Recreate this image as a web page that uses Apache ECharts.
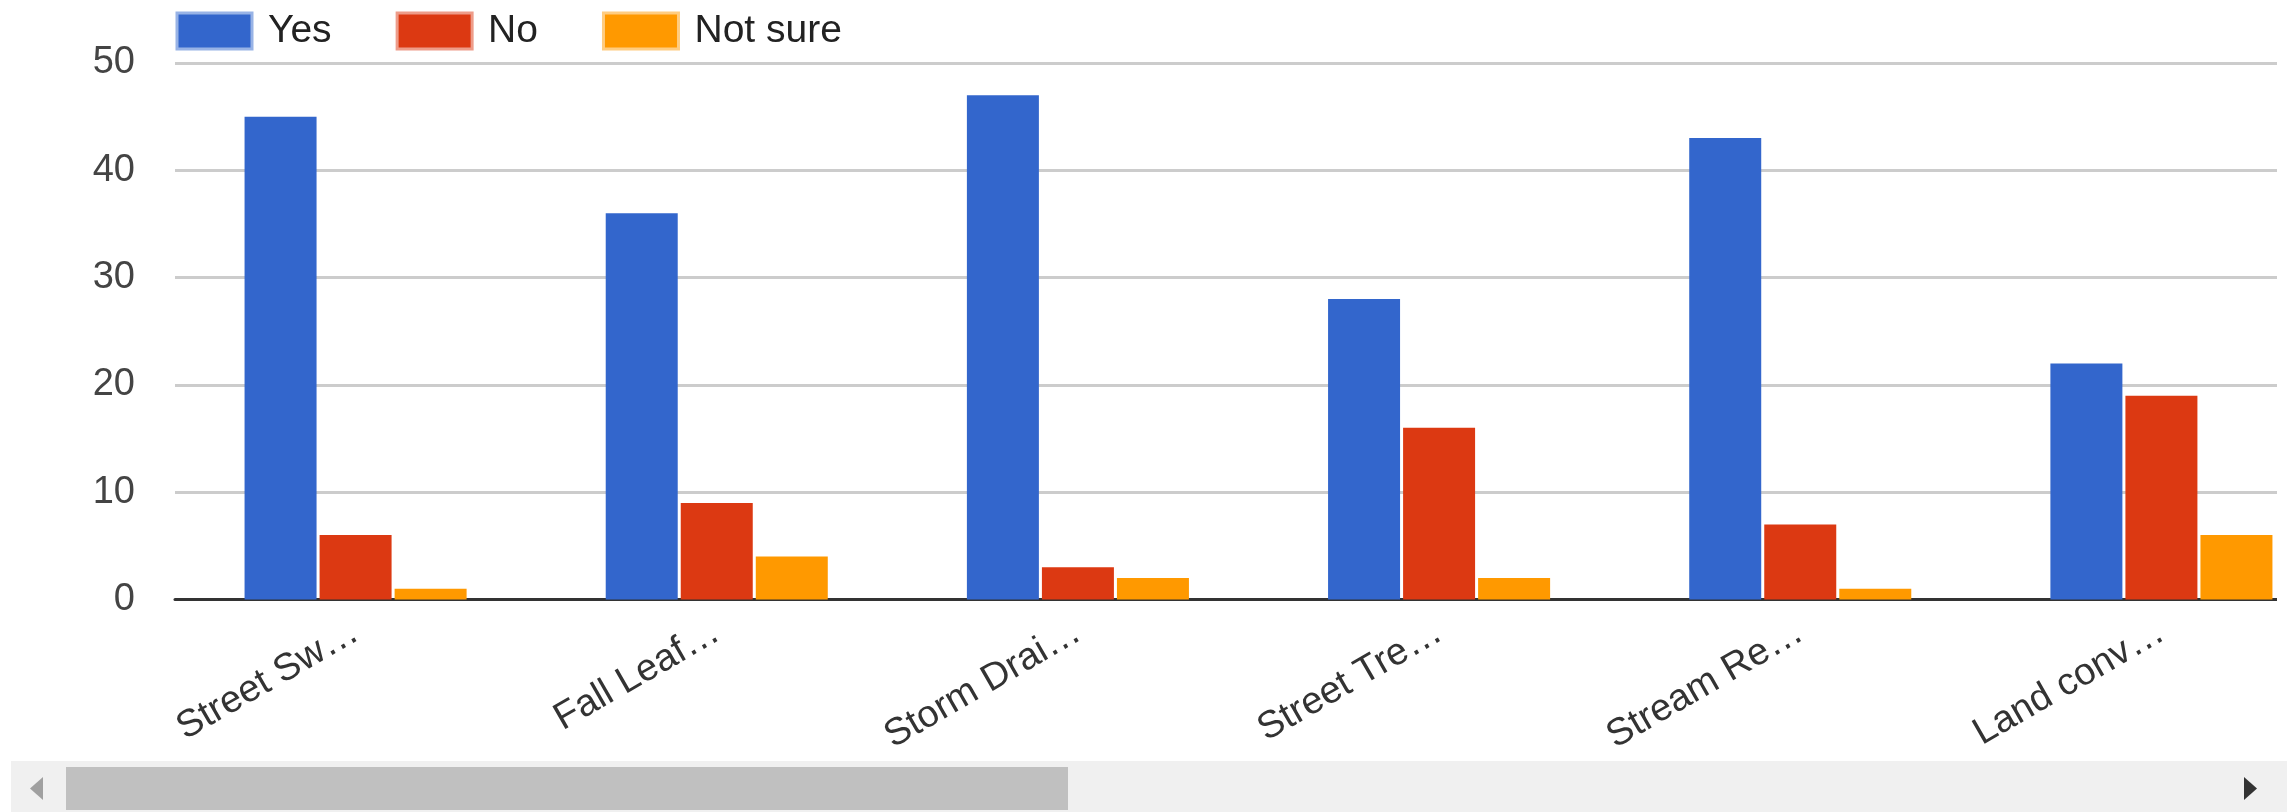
<!DOCTYPE html>
<html>
<head>
<meta charset="utf-8">
<script src="https://cdn.jsdelivr.net/npm/echarts@6/dist/echarts.min.js"></script>
<style>
html,body{margin:0;padding:0;background:#fff;overflow:hidden;width:2287px;height:812px;}
#chart{width:2400px;height:812px;}
</style>
</head>
<body>
<div id="chart"></div>
<script>
var categories = ["Street Sw\u2026", "Fall Leaf\u2026", "Storm Drai\u2026", "Street Tre\u2026", "Stream Re\u2026", "Land conv\u2026"];
var yesValues = [45, 36, 47, 28, 43, 22];
var noValues = [6, 9, 3, 16, 7, 19];
var notSureValues = [1, 4, 2, 2, 1, 6];
var yTicks = { min: 0, max: 50, interval: 10 };

var FONT = 'Arial, "Liberation Sans", sans-serif';
var chart = echarts.init(document.getElementById('chart'));
chart.setOption({
  animation: false,
  backgroundColor: '#ffffff',
  color: ['#3366cc', '#dc3912', '#ff9900'],
  legend: {
    left: 175.5, top: 11.5, padding: 0,
    icon: 'rect',
    itemWidth: 75, itemHeight: 36, itemGap: 64,
    textStyle: { fontFamily: FONT, fontSize: 39, color: '#222222', padding: [0, 0, 0, 11] },
    data: [
      { name: 'Yes', itemStyle: { borderColor: '#98b3e6', borderWidth: 3 } },
      { name: 'No', itemStyle: { borderColor: '#ee9c89', borderWidth: 3 } },
      { name: 'Not sure', itemStyle: { borderColor: '#ffcc80', borderWidth: 3 } }
    ]
  },
  grid: { left: 175, right: 2400 - 175 - 2167, top: 63, bottom: 212.5, containLabel: false },
  xAxis: {
    type: 'category',
    data: categories,
    axisLine: { show: true, lineStyle: { color: '#333333', width: 3 } },
    axisTick: { show: false },
    axisLabel: { rotate: 30, margin: 30, fontFamily: FONT, fontSize: 38, color: '#333333', interval: 0 },
    splitLine: { show: false }
  },
  yAxis: {
    type: 'value',
    min: yTicks.min, max: yTicks.max, interval: yTicks.interval,
    axisLine: { show: false },
    axisTick: { show: false },
    axisLabel: { margin: 40, fontFamily: FONT, fontSize: 38, color: '#444444' },
    splitLine: { lineStyle: { color: '#cccccc', width: 3 } }
  },
  series: [
    { name: 'Yes', type: 'bar', data: yesValues, barWidth: 72, barGap: '4.2%' },
    { name: 'No', type: 'bar', data: noValues, barWidth: 72, barGap: '4.2%' },
    { name: 'Not sure', type: 'bar', data: notSureValues, barWidth: 72, barGap: '4.2%' }
  ],
  graphic: [
    { type: 'rect', z: 100, shape: { x: 2277, y: 0, width: 130, height: 812 }, style: { fill: '#ffffff' } },
    { type: 'rect', z: 100, shape: { x: 11, y: 761, width: 2276, height: 51 }, style: { fill: '#f0f0f0' } },
    { type: 'rect', z: 101, shape: { x: 66, y: 767, width: 1002, height: 43 }, style: { fill: '#c0c0c0' } },
    { type: 'polygon', z: 101, shape: { points: [[30, 788.5], [43, 777], [43, 800]] }, style: { fill: '#a0a0a0' } },
    { type: 'polygon', z: 101, shape: { points: [[2257, 788.5], [2244, 777], [2244, 800]] }, style: { fill: '#333333' } }
  ]
});
</script>
</body>
</html>
